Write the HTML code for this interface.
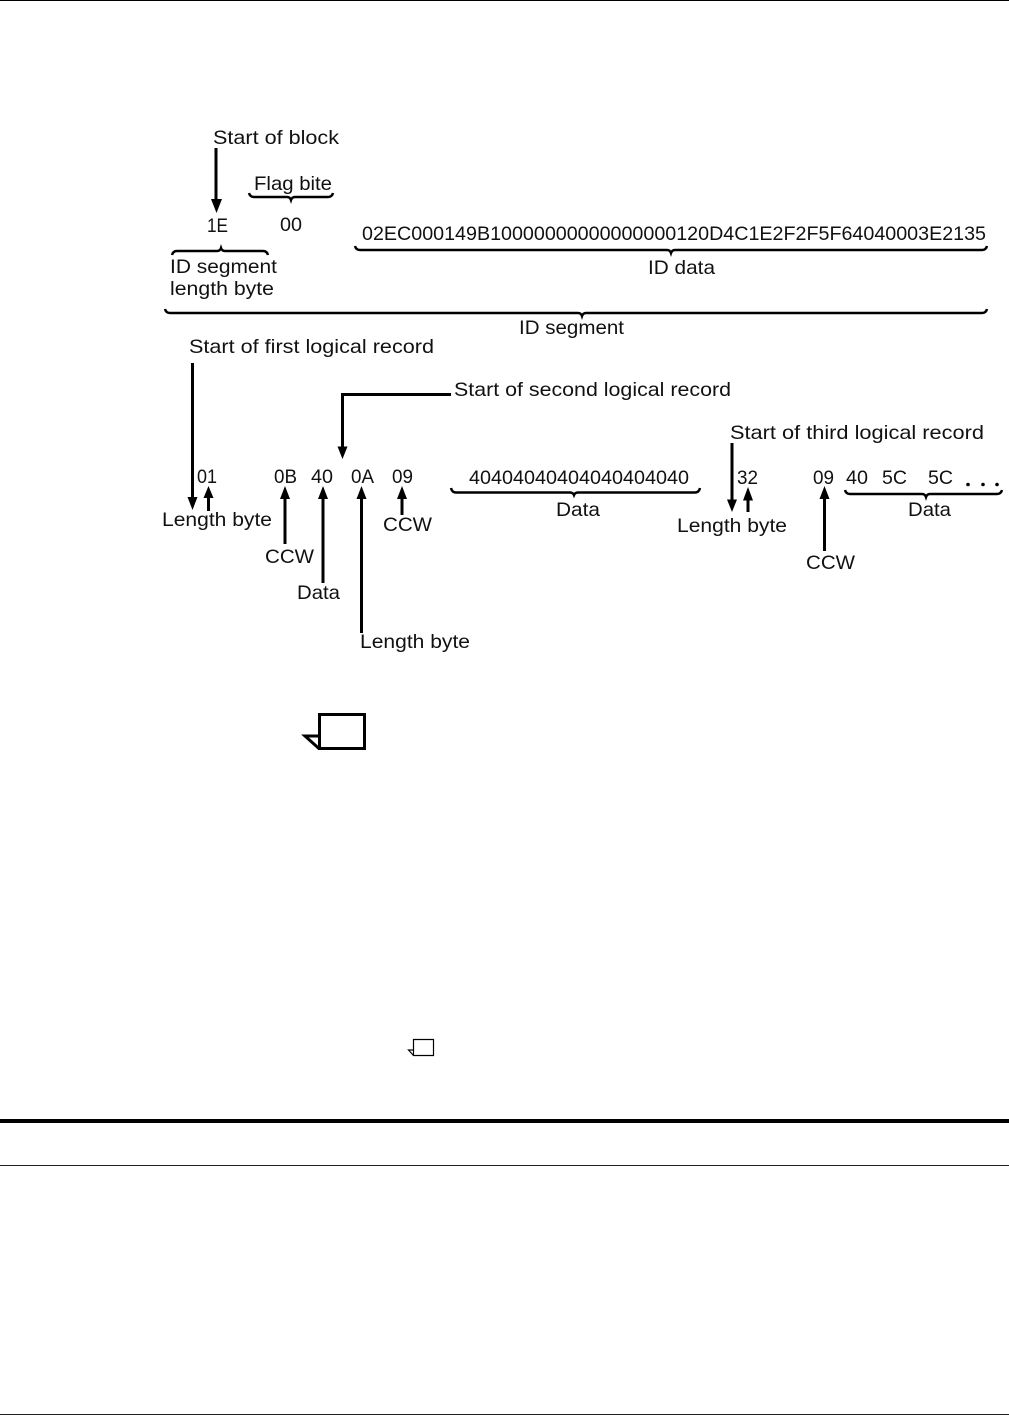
<!DOCTYPE html>
<html><head><meta charset="utf-8"><style>
html,body{margin:0;padding:0;background:#fff}
svg{display:block}
text{font-family:"Liberation Sans",sans-serif;font-size:19.5px;fill:#111}
.l{stroke:#000;stroke-width:3;fill:none}
.b{stroke:#000;stroke-width:2.5;fill:none}
</style></head><body>
<svg width="1009" height="1416" viewBox="0 0 1009 1416" xmlns="http://www.w3.org/2000/svg">
<rect x="0" y="0" width="1009" height="1" fill="#000"/>
<rect x="0" y="1119" width="1009" height="4" fill="#000"/>
<rect x="0" y="1165" width="1009" height="1" fill="#222"/>
<rect x="0" y="1414" width="1009" height="1" fill="#222"/>

<text x="213" y="144" textLength="126" lengthAdjust="spacingAndGlyphs">Start of block</text>
<text x="254" y="190" textLength="78" lengthAdjust="spacingAndGlyphs">Flag bite</text>
<text x="207" y="232" textLength="21" lengthAdjust="spacingAndGlyphs">1E</text>
<text x="280" y="231" textLength="22" lengthAdjust="spacingAndGlyphs">00</text>
<text x="362" y="240" textLength="624" lengthAdjust="spacingAndGlyphs">02EC000149B10000000000000000120D4C1E2F2F5F64040003E2135</text>
<text x="170" y="273" textLength="107" lengthAdjust="spacingAndGlyphs">ID segment</text>
<text x="170" y="295" textLength="104" lengthAdjust="spacingAndGlyphs">length byte</text>
<text x="648" y="274" textLength="67" lengthAdjust="spacingAndGlyphs">ID data</text>
<text x="519" y="334" textLength="105" lengthAdjust="spacingAndGlyphs">ID segment</text>
<text x="189" y="353" textLength="245" lengthAdjust="spacingAndGlyphs">Start of first logical record</text>
<text x="454" y="396" textLength="277" lengthAdjust="spacingAndGlyphs">Start of second logical record</text>
<text x="730" y="439" textLength="254" lengthAdjust="spacingAndGlyphs">Start of third logical record</text>

<text x="197" y="483" textLength="20" lengthAdjust="spacingAndGlyphs">01</text>
<text x="274" y="483" textLength="23" lengthAdjust="spacingAndGlyphs">0B</text>
<text x="311" y="483" textLength="22" lengthAdjust="spacingAndGlyphs">40</text>
<text x="351" y="483" textLength="23" lengthAdjust="spacingAndGlyphs">0A</text>
<text x="392" y="483" textLength="21" lengthAdjust="spacingAndGlyphs">09</text>
<text x="469" y="484" textLength="220" lengthAdjust="spacingAndGlyphs">40404040404040404040</text>
<text x="737" y="484" textLength="21" lengthAdjust="spacingAndGlyphs">32</text>
<text x="813" y="484" textLength="21" lengthAdjust="spacingAndGlyphs">09</text>
<text x="846" y="484" textLength="22" lengthAdjust="spacingAndGlyphs">40</text>
<text x="882" y="484" textLength="25" lengthAdjust="spacingAndGlyphs">5C</text>
<text x="928" y="484" textLength="25" lengthAdjust="spacingAndGlyphs">5C</text>
<circle cx="968" cy="484.500" r="1.800" fill="#000"/>
<circle cx="983" cy="484.500" r="1.800" fill="#000"/>
<circle cx="997" cy="484.500" r="1.800" fill="#000"/>

<text x="162" y="526" textLength="110" lengthAdjust="spacingAndGlyphs">Length byte</text>
<text x="556" y="516" textLength="44" lengthAdjust="spacingAndGlyphs">Data</text>
<text x="677" y="532" textLength="110" lengthAdjust="spacingAndGlyphs">Length byte</text>
<text x="908" y="516" textLength="43" lengthAdjust="spacingAndGlyphs">Data</text>
<text x="383" y="531" textLength="49" lengthAdjust="spacingAndGlyphs">CCW</text>
<text x="265" y="563" textLength="49" lengthAdjust="spacingAndGlyphs">CCW</text>
<text x="806" y="569" textLength="49" lengthAdjust="spacingAndGlyphs">CCW</text>
<text x="297" y="599" textLength="43" lengthAdjust="spacingAndGlyphs">Data</text>
<text x="360" y="648" textLength="110" lengthAdjust="spacingAndGlyphs">Length byte</text>

<!-- arrows -->
<path class="l" d="M216 148V200"/><polygon points="211,199 222,199 216.500,213" fill="#000"/>
<path class="l" d="M192.500 363V498"/><polygon points="187.500,497 197.500,497 192.500,510" fill="#000"/>
<path class="l" d="M208.500 511V496"/><polygon points="203.500,498 213.500,498 208.500,486" fill="#000"/>
<path class="l" d="M285 544V498"/><polygon points="280,499 290,499 285,486" fill="#000"/>
<path class="l" d="M323 583V498"/><polygon points="318,499 328,499 323,486" fill="#000"/>
<path class="l" d="M361.500 633V498"/><polygon points="356.500,499 366.500,499 361.500,486" fill="#000"/>
<path class="l" d="M402 515V498"/><polygon points="397,499 407,499 402,486" fill="#000"/>
<path class="l" d="M451 394.500H342.500V450"/><polygon points="337.500,446.500 347.500,446.500 342.500,459" fill="#000"/>
<path class="l" d="M732 443V502"/><polygon points="727,499.500 737,499.500 732,512" fill="#000"/>
<path class="l" d="M748 512V498"/><polygon points="743,500.500 753,500.500 748,487" fill="#000"/>
<path class="l" d="M824.500 551V498"/><polygon points="819.500,499 829.500,499 824.500,486" fill="#000"/>

<!-- braces -->
<path class="b" d="M249 193Q250 197 254 197H287Q290 197 291 200Q292 197 295 197H328Q332 197 333 193"/>
<path class="b" d="M172 255Q173 251 177 251H217Q220 251 221 248Q222 251 225 251H263Q267 251 268 255"/>
<path class="b" d="M355 246Q356 250 360 250H667Q670 250 671 253Q672 250 675 250H982Q986 250 987 246"/>
<path class="b" d="M165 309Q166 313 170 313H578Q581 313 582 316Q583 313 586 313H982Q986 313 987 309"/>
<path class="b" d="M451 488Q452 492.500 456 492.500H570Q573 492.500 574 495Q575 492.500 578 492.500H695Q699 492.500 700 488"/>
<path class="b" d="M845 490Q846 494 850 494H1022" style="display:none"/>
<path class="b" d="M845 490Q846 494 850 494H1030" style="display:none"/>
<path class="b" d="M845 490Q846 494 850 494H922Q925 494 926 497Q927 494 930 494H997Q1001 494 1002 490"/>

<!-- note icons -->
<path d="M319.500 714.500H364.500V748.500H319.500ZM319.500 736H305L319.500 749" fill="#fff" stroke="#000" stroke-width="3"/>
<path d="M413.500 1039.500H433.500V1055.500H413.500ZM413.500 1050H408.500L413.500 1055.500" fill="#fff" stroke="#000" stroke-width="1.200"/>
</svg>
</body></html>
